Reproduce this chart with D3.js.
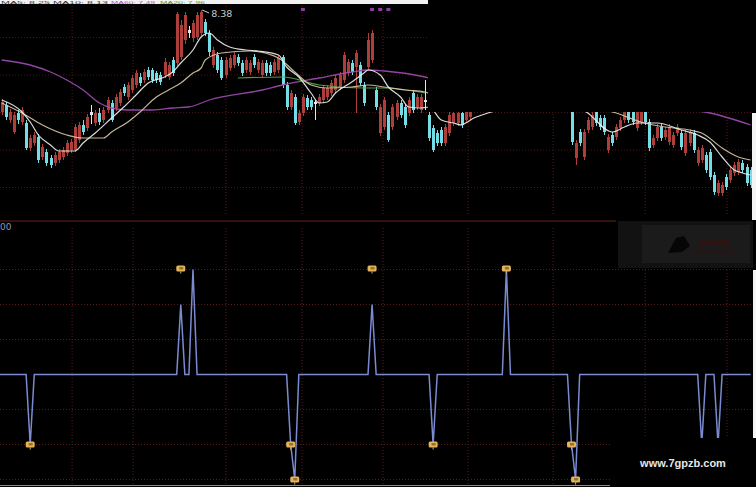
<!DOCTYPE html>
<html><head><meta charset="utf-8">
<script src="https://cdn.jsdelivr.net/npm/d3@7"></script>
<style>html,body{margin:0;padding:0;background:#000;overflow:hidden}svg{display:block}</style>
</head><body>
<svg id="c" width="756" height="487"></svg>
<script>
// ---------- DATA ----------
const N = 185;
const open = [
7.36,7.43,7.28,7.16,7.35,7.26,7.25,7.00,7.05,7.11,
6.91,6.96,6.90,6.85,6.88,6.91,6.95,6.98,6.98,7.08,
7.23,7.20,7.36,7.25,7.35,7.28,7.38,7.45,7.40,7.45,
7.61,7.51,7.58,7.63,7.71,7.68,7.78,7.78,7.75,7.73,
7.73,7.71,7.88,7.85,7.91,8.08,8.18,8.10,8.11,8.15,
8.26,8.15,7.83,7.93,7.88,7.73,7.80,7.83,7.91,7.85,
7.78,7.76,7.91,7.78,7.73,7.85,7.83,7.76,7.78,7.91,
7.63,7.41,7.51,7.26,7.35,7.50,7.48,7.46,7.45,7.48,
7.51,7.55,7.58,7.61,7.68,7.75,7.85,7.81,7.83,7.63,
7.81,7.88,7.58,7.15,7.21,7.33,7.21,7.31,7.45,7.41,
7.35,7.55,7.41,7.38,7.48,7.33,7.20,7.15,7.18,7.05,
7.15,7.25,7.25,7.35,7.28,7.31,
null,null,null,null,null,null,null,null,null,null,null,null,
null,null,null,null,null,null,null,null,null,null,null,null,
7.40,6.90,7.16,6.91,7.18,7.21,7.38,7.30,7.30,6.98,
7.13,7.11,7.20,7.28,7.43,7.38,7.20,7.26,7.43,7.26,
7.03,7.10,7.21,7.11,7.06,7.03,7.15,7.15,6.95,7.05,
7.15,6.85,6.88,6.93,6.96,6.73,6.55,6.55,6.71,6.68,
6.75,6.76,6.85,6.81,6.78];
const close = [
7.46,7.31,7.36,7.33,7.28,7.38,7.00,7.10,7.13,6.88,
7.01,6.85,6.83,6.93,6.96,6.98,7.05,7.06,7.21,7.23,
7.16,7.31,7.33,7.35,7.26,7.38,7.48,7.28,7.51,7.56,
7.55,7.63,7.70,7.75,7.65,7.76,7.71,7.68,7.68,7.66,
7.86,7.83,7.75,8.34,8.23,8.33,8.15,8.25,8.33,8.36,
8.15,7.96,7.98,7.78,7.70,7.88,7.90,7.93,7.85,7.75,
7.88,7.85,7.83,7.86,7.85,7.75,7.75,7.86,7.90,7.63,
7.41,7.55,7.25,7.35,7.51,7.41,7.41,7.44,7.51,7.60,
7.60,7.65,7.70,7.73,7.93,7.86,7.76,7.95,7.65,7.45,
8.08,8.15,7.41,7.41,7.48,7.08,7.41,7.45,7.33,7.23,
7.48,7.38,7.51,7.51,7.46,7.10,6.98,7.05,7.05,7.21,
7.33,7.35,7.35,7.23,7.38,7.40,
null,null,null,null,null,null,null,null,null,null,null,null,
null,null,null,null,null,null,null,null,null,null,null,null,
7.06,7.05,7.05,7.16,7.28,7.33,7.25,7.21,7.16,7.11,
7.05,7.21,7.28,7.38,7.28,7.26,7.38,7.40,7.26,7.00,
7.10,7.21,7.10,7.18,7.21,7.13,7.21,7.01,7.15,7.16,
6.98,6.98,7.00,6.78,6.71,6.56,6.65,6.63,6.61,6.78,
6.83,6.86,6.78,6.65,6.63];
const high = [
7.49,7.46,7.39,7.36,7.38,7.41,7.28,7.13,7.16,7.14,
7.04,6.99,6.93,6.96,6.99,7.01,7.08,7.09,7.24,7.26,
7.28,7.34,7.43,7.38,7.40,7.41,7.51,7.48,7.54,7.59,
7.64,7.66,7.73,7.78,7.75,7.79,7.81,7.80,7.77,7.76,
7.90,7.86,7.91,8.36,8.28,8.36,8.22,8.28,8.36,8.38,
8.29,8.18,8.01,7.96,7.91,7.91,7.93,7.96,7.94,7.88,
7.91,7.88,7.94,7.89,7.88,7.88,7.86,7.89,7.93,7.93,
7.66,7.58,7.54,7.38,7.54,7.53,7.51,7.48,7.54,7.63,
7.63,7.68,7.73,7.76,7.96,7.89,7.88,7.98,7.86,7.66,
8.15,8.18,7.61,7.44,7.51,7.36,7.44,7.48,7.48,7.44,
7.51,7.58,7.54,7.54,7.68,7.36,7.23,7.18,7.21,7.24,
7.36,7.38,7.38,7.38,7.41,7.43,
null,null,null,null,null,null,null,null,null,null,null,null,
null,null,null,null,null,null,null,null,null,null,null,null,
7.43,7.08,7.19,7.19,7.31,7.36,7.41,7.33,7.33,7.14,
7.16,7.24,7.31,7.41,7.46,7.41,7.41,7.43,7.46,7.29,
7.13,7.24,7.24,7.21,7.24,7.16,7.24,7.18,7.18,7.19,
7.18,7.01,7.03,6.96,6.99,6.76,6.68,6.66,6.74,6.81,
6.86,6.89,6.88,6.84,6.81];
const low = [
7.33,7.28,7.25,7.14,7.24,7.23,6.98,6.97,7.02,6.85,
6.88,6.82,6.80,6.82,6.85,6.88,6.92,6.95,6.96,7.05,
7.13,7.17,7.24,7.22,7.23,7.25,7.35,7.26,7.37,7.42,
7.52,7.48,7.55,7.60,7.62,7.65,7.68,7.65,7.65,7.63,
7.70,7.68,7.72,7.82,7.88,8.04,8.10,8.06,8.08,8.12,
8.12,7.92,7.80,7.75,7.68,7.70,7.77,7.80,7.82,7.72,
7.75,7.73,7.80,7.75,7.70,7.72,7.72,7.73,7.75,7.60,
7.38,7.38,7.23,7.23,7.32,7.38,7.38,7.28,7.42,7.45,
7.48,7.52,7.55,7.58,7.65,7.72,7.73,7.35,7.62,7.42,
7.78,7.85,7.38,7.12,7.18,7.06,7.18,7.28,7.30,7.20,
7.32,7.35,7.38,7.35,7.38,7.07,6.96,7.02,7.02,7.02,
7.12,7.22,7.22,7.20,7.25,7.28,
null,null,null,null,null,null,null,null,null,null,null,null,
null,null,null,null,null,null,null,null,null,null,null,null,
7.03,6.83,7.02,6.88,7.15,7.18,7.22,7.18,7.13,6.95,
7.02,7.08,7.17,7.25,7.25,7.23,7.17,7.23,7.23,6.97,
7.00,7.07,7.07,7.08,7.03,7.00,7.12,6.98,6.92,7.02,
6.95,6.82,6.85,6.75,6.68,6.53,6.52,6.52,6.58,6.65,
6.72,6.73,6.75,6.62,6.60];

// moving averages: [bar index, price]; null = not visible
const ma5 = [[0,7.48],[5,7.36],[7,7.26],[9,7.13],[12,7.03],[14,6.97],[18,6.97],[20,7.05],[23,7.15],
 [27,7.30],[30,7.41],[33,7.53],[36,7.65],[40,7.71],[42,7.76],[44,7.85],[47,7.98],[49,8.11],[51,8.15],
 [53,8.08],[56,8.01],[60,7.98],[63,7.97],[68,7.93],[70,7.81],[73,7.71],[76,7.55],[78,7.45],[80,7.46],
 [82,7.55],[86,7.66],[89,7.75],[90,7.78],[93,7.73],[95,7.61],[98,7.51],[100,7.41],[103,7.40],[105,7.41],
 [108,7.28],[111,7.25],[113,7.23],[114,7.25],[116,7.30],[118,7.33],[122,7.38],[123,null],
 [141,7.43],[144,7.35],[150,7.16],[153,7.21],[156,7.25],[161,7.25],[167,7.18],[171,7.13],[174,7.06],
 [177,6.91],[180,6.78],[182,6.75],[184,6.73]];
const ma10 = [[0,7.45],[5,7.35],[10,7.23],[16,7.13],[20,7.10],[25,7.10],[27,7.16],[31,7.26],[34,7.36],
 [38,7.51],[41,7.58],[44,7.65],[47,7.75],[49,7.80],[50,7.88],[54,7.95],[61,7.97],[68,7.90],[72,7.76],
 [76,7.63],[80,7.60],[86,7.61],[90,7.63],[94,7.61],[99,7.58],[104,7.56],[108,7.48],[115,7.42],[122,7.40],
 [123,null],[146,7.40],[151,7.35],[157,7.26],[163,7.21],[169,7.18],[172,7.15],[177,7.00],[181,6.91],[184,6.88]];
const ma20 = [[58,7.70],[69,7.71],[78,7.63],[89,7.60],[94,7.60],[104,7.55]];
const ma60 = [[0,7.88],[7,7.83],[12,7.76],[16,7.68],[20,7.58],[24,7.45],[27,7.40],[31,7.38],[37,7.38],
 [42,7.40],[46,7.41],[51,7.48],[64,7.58],[69,7.63],[78,7.70],[86,7.76],[90,7.78],[94,7.77],[104,7.71],
 [105,7.70],[106,null],[168,7.39],[174,7.35],[184,7.23]];

// lower indicator: non-zero bars [bar index, value]; all other bars are 0
const signalEvents = [[7,-2],[44,2],[47,3],[71,-2],[72,-3],[91,2],[106,-2],[124,3],[140,-2],[141,-3],[172,-2],[176,-2]];
const buyMarkIdx = [44, 91, 124];
const topMarkIdx = [74, 91, 93, 95];
const monthIdx = [17.3, 32.3, 55.1, 73.8, 93.7, 114.6, 135.5, 158.1, 178.2];
const highLabel = "8.38";
const highIdx = 49;
const headerTexts = [["MA5: 8.25  MA10: 8.13", "#3a3a3a"], ["MA60: 7.49", "#b050c0"], ["MA20: 7.96", "#40a040"]];
const indLabel = "00";
const watermark = "www.7gpzb.com";

// ---------- DRAW ----------
const svg = d3.select("#c");
const W = 756, H = 487;
svg.append("rect").attr("width", W).attr("height", H).attr("fill", "#000");

const x = d3.scaleLinear().domain([0, N - 1]).range([1.7, 750.6]);
const yTop = d3.scaleLinear().domain([8.48, 6.28]).range([0, 220]);
const yInd = d3.scaleLinear().domain([3, -3]).range([269.5, 479.5]);

const gridCol = "#4a1614";
// top panel grid
const topG = svg.append("g");
topG.selectAll(".hg").data(d3.range(1, 6)).join("line")
  .attr("x1", 0).attr("x2", 752).attr("y1", d => d * 37.5).attr("y2", d => d * 37.5)
  .attr("stroke", gridCol).attr("stroke-dasharray", "1,2").attr("stroke-width", 1);
topG.selectAll(".vg").data(monthIdx).join("line")
  .attr("x1", d => x(d)).attr("x2", d => x(d)).attr("y1", 0).attr("y2", 216)
  .attr("stroke", gridCol).attr("stroke-dasharray", "1,2").attr("stroke-width", 1.2);

// candles
const bars = d3.range(N).filter(i => open[i] != null);
const col = i => Math.abs(close[i] - open[i]) <= 0.031 ? "#e6e6ee" : (close[i] > open[i] ? "#ad3e39" : "#74dde6");
const cg = svg.append("g");
cg.selectAll(".w").data(bars).join("line")
  .attr("x1", i => Math.round(x(i)) + 0.5).attr("x2", i => Math.round(x(i)) + 0.5)
  .attr("y1", i => yTop(high[i])).attr("y2", i => yTop(low[i]))
  .attr("stroke", col).attr("stroke-width", 1);
cg.selectAll(".b").data(bars).join("rect")
  .attr("x", i => Math.round(x(i)) - 1)
  .attr("width", 3)
  .attr("y", i => yTop(Math.max(open[i], close[i])))
  .attr("height", i => Math.max(1.2, Math.abs(yTop(open[i]) - yTop(close[i]))))
  .attr("fill", col);

// moving averages
const ln = d3.line().defined(d => d[1] != null).x(d => x(d[0])).y(d => yTop(d[1])).curve(d3.curveMonotoneX);
[[ma60, "#a04cb4", 1.3], [ma20, "#5aa848", 1.2], [ma10, "#d9c9a6", 1.2], [ma5, "#f2f2f2", 1.2]].forEach(([d, c, w]) => {
  svg.append("path").attr("d", ln(d)).attr("fill", "none").attr("stroke", c).attr("stroke-width", w).attr("opacity", 0.9);
});

// high label
svg.append("line").attr("x1", x(highIdx) + 1).attr("y1", yTop(high[highIdx]))
  .attr("x2", x(highIdx) + 8).attr("y2", yTop(high[highIdx]) + 3).attr("stroke", "#cfcfcf").attr("stroke-width", 1);
svg.append("text").attr("x", x(highIdx) + 10).attr("y", yTop(high[highIdx]) + 7)
  .attr("font-family", "DejaVu Sans, sans-serif").attr("font-size", 9.5).attr("fill", "#c8c8c8").text(highLabel);

// small purple event marks at top
svg.selectAll(".pm").data(topMarkIdx).join("rect")
  .attr("x", i => x(i) - 2).attr("y", 8).attr("width", 4).attr("height", 3)
  .attr("fill", "#8a3fa0");

// covered top-right region of the screenshot
svg.append("rect").attr("x", 428).attr("y", 0).attr("width", 328).attr("height", 112).attr("fill", "#000");

// header strip (thin)
svg.append("rect").attr("x", 0).attr("y", 0).attr("width", 428).attr("height", 4).attr("fill", "#f2f2f2");
const headerPos = [[1, 107], [111, 44], [160, 45]];
headerTexts.forEach(([t, c], k) => {
  svg.append("text").attr("x", headerPos[k][0]).attr("y", 3.6)
    .attr("textLength", headerPos[k][1]).attr("lengthAdjust", "spacingAndGlyphs")
    .attr("font-family", "Liberation Sans, sans-serif").attr("font-size", 4.4).attr("fill", c).text(t);
});

// separator
svg.append("line").attr("x1", 0).attr("x2", 616).attr("y1", 221).attr("y2", 221).attr("stroke", "#6a2218").attr("stroke-width", 1);

// right white edge
svg.append("rect").attr("x", 752).attr("y", 113).attr("width", 4).attr("height", 107).attr("fill", "#f4f4f4");

// lower panel grid
const lo = svg.append("g");
lo.selectAll(".h").data([3, 2, 1, -1, -2, -3]).join("line")
  .attr("x1", 0).attr("x2", 752).attr("y1", d => yInd(d)).attr("y2", d => yInd(d))
  .attr("stroke", "#5a1c18").attr("stroke-dasharray", "1,2").attr("stroke-width", 1);
lo.selectAll(".v").data(monthIdx).join("line")
  .attr("x1", d => x(d)).attr("x2", d => x(d)).attr("y1", 228).attr("y2", 484)
  .attr("stroke", "#4a1614").attr("stroke-dasharray", "1,2").attr("stroke-width", 1.2);

svg.append("text").attr("x", 0).attr("y", 230).attr("font-family", "DejaVu Sans, sans-serif")
  .attr("font-size", 9).attr("fill", "#8797c4").text(indLabel);

// indicator line
const evMap = new Map(signalEvents);
const series = d3.range(N).map(i => [i, evMap.has(i) ? evMap.get(i) : 0]);
svg.append("path")
  .attr("d", d3.line().x(d => x(d[0])).y(d => yInd(d[1]))([[ -0.5, 0], ...series]))
  .attr("fill", "none").attr("stroke", "#7a8bd2").attr("stroke-width", 1.5);

// markers
function marker(g, cx, cy) {
  const m = g.append("g").attr("transform", `translate(${cx},${cy})`);
  m.append("rect").attr("x", -4.5).attr("y", -3).attr("width", 9).attr("height", 6).attr("rx", 1.5).attr("fill", "#e3b45c");
  m.append("rect").attr("x", -1.5).attr("y", -1.5).attr("width", 4).attr("height", 2.5).attr("fill", "#9a7030");
  m.append("line").attr("x1", 0).attr("x2", 0).attr("y1", 3).attr("y2", 5).attr("stroke", "#e3b45c");
}
const mg = svg.append("g");
buyMarkIdx.forEach(i => marker(mg, x(i), yInd(3) - 1));
signalEvents.filter(d => d[1] <= -2).forEach(d => marker(mg, x(d[0]), yInd(d[1])));

// bottom line
svg.append("line").attr("x1", 0).attr("x2", 612).attr("y1", 485.5).attr("y2", 485.5).attr("stroke", "#8a8a8a").attr("stroke-width", 1.2);

// blurred logo box
svg.append("rect").attr("x", 618).attr("y", 221).attr("width", 135).attr("height", 47).attr("fill", "#121212");
svg.append("rect").attr("x", 642).attr("y", 225).attr("width", 108).attr("height", 38).attr("fill", "#1b1b1b");
svg.append("path").attr("d", "M668,253 L676,238 L684,236 L690,246 L682,252 Z").attr("fill", "#060606");
svg.append("rect").attr("x", 700).attr("y", 240).attr("width", 30).attr("height", 5).attr("fill", "#2a1414");
svg.append("rect").attr("x", 690).attr("y", 250).attr("width", 45).attr("height", 3).attr("fill", "#221616");

// white right edge lower
svg.append("rect").attr("x", 753).attr("y", 270).attr("width", 3).attr("height", 168).attr("fill", "#f4f4f4");

// watermark box
svg.append("rect").attr("x", 610).attr("y", 438).attr("width", 146).attr("height", 49).attr("fill", "#000");
svg.append("text").attr("x", 683).attr("y", 467).attr("text-anchor", "middle")
  .attr("font-family", "Liberation Sans, Arial, sans-serif").attr("font-weight", "bold")
  .attr("font-size", 11).attr("fill", "#e6e6e6").text(watermark);
</script>
</body></html>
